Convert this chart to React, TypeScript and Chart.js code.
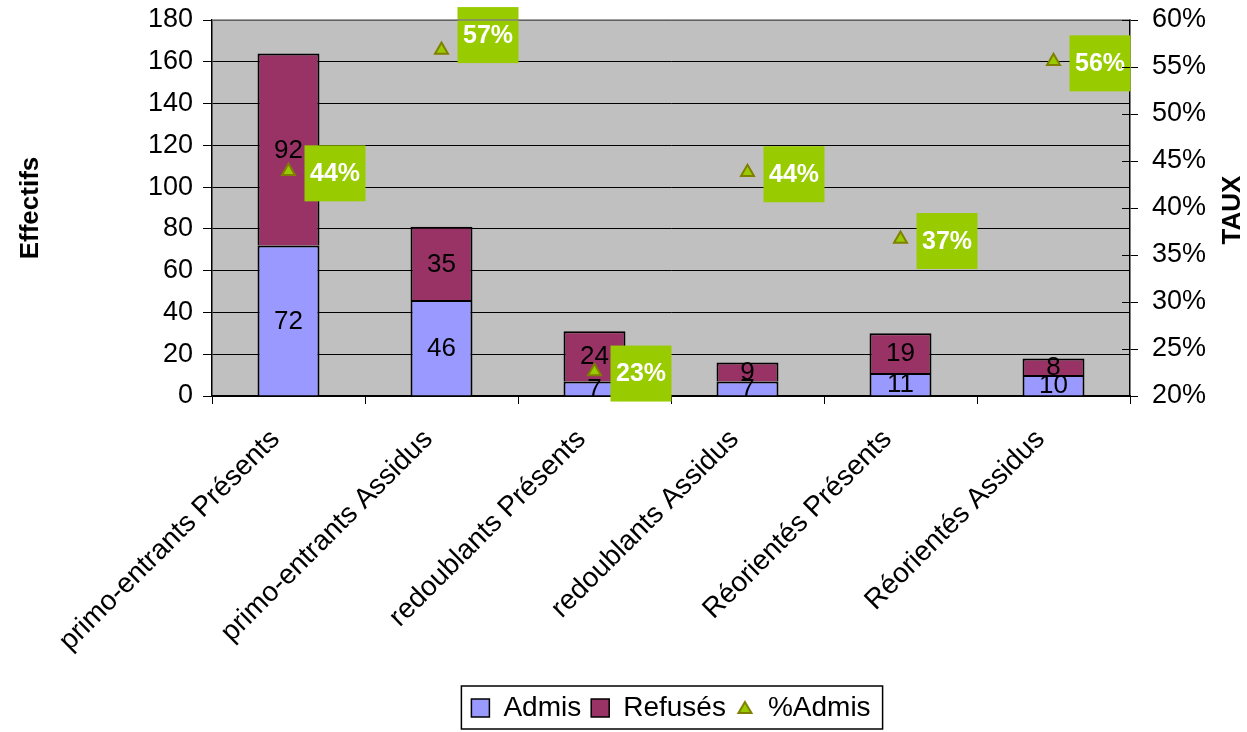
import React, { useEffect, useRef } from 'react';
import { Chart, registerables } from 'chart.js';

Chart.register(...registerables);

const categories = [
  'primo-entrants Présents',
  'primo-entrants Assidus',
  'redoublants Présents',
  'redoublants Assidus',
  'Réorientés Présents',
  'Réorientés Assidus',
];
const admis = [72, 46, 7, 7, 11, 10];
const refuses = [92, 35, 24, 9, 19, 8];
const tauxAdmis = [43.9, 56.8, 22.6, 43.8, 36.7, 55.6];
const seriesNames = ['Admis', 'Refusés', '%Admis'];

const FONT = '"Liberation Sans", Arial, sans-serif';
const COL_ADMIS = '#9999FF';
const COL_REFUS = '#993366';
const COL_TRI = '#99CC00';
const COL_TRI_BORDER = '#808000';
const COL_LABEL = '#99CC00';

function makeTriangle(): HTMLCanvasElement {
  const c = document.createElement('canvas');
  c.width = 18;
  c.height = 18;
  const g = c.getContext('2d')!;
  g.beginPath();
  g.moveTo(9, 3);
  g.lineTo(15.5, 14);
  g.lineTo(2.5, 14);
  g.closePath();
  g.fillStyle = COL_TRI;
  g.fill();
  g.lineWidth = 2;
  g.strokeStyle = COL_TRI_BORDER;
  g.stroke();
  return c;
}

const decorPlugin = {
  id: 'decor',
  beforeDraw(chart: any) {
    const { ctx, chartArea: a } = chart;
    ctx.save();
    ctx.fillStyle = '#C0C0C0';
    ctx.fillRect(a.left, a.top, a.right - a.left, a.bottom - a.top);
    ctx.restore();
  },
  afterDatasetsDraw(chart: any) {
    const ctx = chart.ctx;
    ctx.save();
    ctx.font = `26px ${FONT}`;
    ctx.fillStyle = '#000';
    ctx.textAlign = 'center';
    ctx.textBaseline = 'middle';
    [0, 1].forEach((di) => {
      const meta = chart.getDatasetMeta(di);
      meta.data.forEach((el: any, i: number) => {
        const v = chart.data.datasets[di].data[i];
        ctx.fillText(String(v), el.x, (el.y + el.base) / 2 + 1);
      });
    });
    const shifts: Record<number, number> = { 1: -17 };
    const meta = chart.getDatasetMeta(2);
    ctx.font = `bold 25px ${FONT}`;
    meta.data.forEach((el: any, i: number) => {
      const v = chart.data.datasets[2].data[i] as number;
      const bw = 61;
      const bh = 56;
      const bx = el.x + 16;
      const cy = el.y + 2 + (shifts[i] || 0);
      ctx.fillStyle = COL_LABEL;
      ctx.fillRect(bx, cy - bh / 2, bw, bh);
      ctx.fillStyle = '#fff';
      ctx.fillText(Math.round(v) + '%', bx + bw / 2, cy + 1);
    });
    ctx.restore();
  },
  afterDraw(chart: any) {
    const ctx = chart.ctx;
    const a = chart.chartArea;
    ctx.save();
    ctx.strokeStyle = '#808080';
    ctx.lineWidth = 1.5;
    ctx.beginPath();
    ctx.moveTo(a.left, a.top);
    ctx.lineTo(a.right, a.top);
    ctx.stroke();
    const y1 = chart.scales.y1;
    ctx.strokeStyle = '#000';
    ctx.lineWidth = 1;
    y1.ticks.forEach((t: any) => {
      const y = Math.round(y1.getPixelForValue(t.value)) + 0.5;
      ctx.beginPath();
      ctx.moveTo(a.right - 8, y);
      ctx.lineTo(a.right, y);
      ctx.stroke();
    });
    ctx.font = `bold 26px ${FONT}`;
    ctx.fillStyle = '#000';
    ctx.textAlign = 'center';
    ctx.textBaseline = 'middle';
    ctx.translate(1233, (a.top + a.bottom) / 2 + 2);
    ctx.rotate(-Math.PI / 2);
    ctx.fillText('TAUX', 0, 0);
    ctx.restore();
    const lg = chart.legend;
    if (lg && lg.legendHitBoxes && lg.legendHitBoxes.length) {
      const hb = lg.legendHitBoxes;
      const l = Math.min(...hb.map((h: any) => h.left)) - 10;
      const r = Math.max(...hb.map((h: any) => h.left + h.width)) + 12;
      const t = hb[0].top - 8;
      const b = hb[0].top + hb[0].height + 7;
      ctx.save();
      ctx.strokeStyle = '#000';
      ctx.lineWidth = 1.5;
      ctx.strokeRect(l, t, r - l, b - t);
      ctx.restore();
    }
  },
};

const noVerticalPadding = (s: any) => {
  s.paddingTop = 0;
  s.paddingBottom = 0;
};

export default function App() {
  const ref = useRef<HTMLCanvasElement | null>(null);

  useEffect(() => {
    if (!ref.current) return;
    Chart.defaults.font.family = FONT;
    const tri = makeTriangle();
    const chart = new Chart(ref.current, {
      type: 'bar',
      data: {
        labels: categories,
        datasets: [
          {
            type: 'bar',
            label: seriesNames[0],
            data: admis,
            backgroundColor: COL_ADMIS,
            borderColor: '#000',
            borderWidth: 2,
            yAxisID: 'y',
            barPercentage: 0.405,
            categoryPercentage: 1,
            order: 2,
          },
          {
            type: 'bar',
            label: seriesNames[1],
            data: refuses,
            backgroundColor: COL_REFUS,
            borderColor: '#000',
            borderWidth: 2,
            yAxisID: 'y',
            barPercentage: 0.405,
            categoryPercentage: 1,
            order: 2,
          },
          {
            type: 'line',
            label: seriesNames[2],
            data: tauxAdmis,
            yAxisID: 'y1',
            showLine: false,
            pointStyle: 'triangle',
            pointRadius: 7.5,
            pointBorderWidth: 2,
            pointBackgroundColor: COL_TRI,
            pointBorderColor: COL_TRI_BORDER,
            order: 1,
          } as any,
        ],
      },
      options: {
        responsive: false,
        animation: false,
        devicePixelRatio: 1,
        layout: { padding: { top: 20, bottom: 0, left: 0, right: 0 } },
        plugins: {
          tooltip: { enabled: false },
          legend: {
            position: 'bottom',
            fullSize: false,
            labels: {
              font: { size: 28 },
              color: '#000',
              usePointStyle: true,
              boxWidth: 18,
              boxHeight: 18,
              padding: 10,
              generateLabels: () => [
                { text: seriesNames[0], fillStyle: COL_ADMIS, strokeStyle: '#000', lineWidth: 1.5, pointStyle: 'rect', datasetIndex: 0, hidden: false } as any,
                { text: seriesNames[1], fillStyle: COL_REFUS, strokeStyle: '#000', lineWidth: 1.5, pointStyle: 'rect', datasetIndex: 1, hidden: false } as any,
                { text: seriesNames[2], fillStyle: COL_TRI, strokeStyle: COL_TRI_BORDER, lineWidth: 0, pointStyle: tri, datasetIndex: 2, hidden: false } as any,
              ],
            },
          },
        },
        scales: {
          x: {
            stacked: true,
            offset: true,
            grid: { offset: true, drawOnChartArea: false, color: '#000', tickLength: 8 },
            border: { color: '#000', width: 1.5 },
            ticks: { font: { size: 28 }, color: '#000', maxRotation: 45, minRotation: 45, autoSkip: false, padding: 19, labelOffset: -13 },
            afterFit: (s: any) => {
              s.height = 288;
            },
          },
          y: {
            stacked: true,
            min: 0,
            max: 180,
            ticks: { stepSize: 20, font: { size: 27 }, color: '#000', padding: 10 },
            grid: { color: '#000', tickLength: 9 },
            border: { color: '#000', width: 1.5 },
            title: {
              display: true,
              text: 'Effectifs',
              font: { size: 26, weight: 'bold' },
              color: '#000',
              padding: { top: 15, bottom: 0 },
            },
            afterFit: (s: any) => {
              s.width = 212;
              noVerticalPadding(s);
            },
          },
          y1: {
            position: 'right',
            min: 20,
            max: 60,
            ticks: { stepSize: 5, font: { size: 27 }, color: '#000', padding: 14, callback: (v: any) => v + '%' },
            grid: { drawOnChartArea: false, color: '#000', tickLength: 8 },
            border: { color: '#000', width: 1.5 },
            afterFit: (s: any) => {
              s.width = 117;
              noVerticalPadding(s);
            },
          },
        },
      },
      plugins: [decorPlugin],
    });
    return () => chart.destroy();
  }, []);

  return (
    <div style={{ position: 'fixed', left: 0, top: 0, width: 1247, height: 732, background: '#fff' }}>
      <canvas ref={ref} width={1247} height={732} />
    </div>
  );
}
